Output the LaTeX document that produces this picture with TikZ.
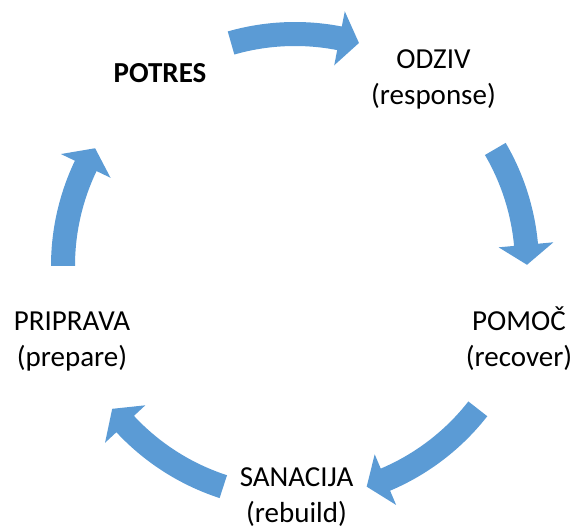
\documentclass[tikz,border=0pt]{standalone}
\usepackage{fontspec}
\setmainfont{Carlito}
\usetikzlibrary{calc}
\definecolor{ciklus}{HTML}{5B9BD5}
\tikzset{
  faza/.style={align=center, anchor=base, inner sep=0pt,
    font=\fontsize{29}{36}\selectfont}
}
\newcommand{\faza}[4]{
  \node[faza] (#1) at (#2,#3) {#4};
}
\newcommand{\puscica}[2]{
  \fill[ciklus] ($(sredina)+(#1:244)$)
  arc[start angle=#1, end angle=#2+4.94, radius=244]
  -- ($(sredina)+(#2+4.94:259.5)$) -- ($(sredina)+(#2:232)$)
  -- ($(sredina)+(#2+4.94:204.5)$) -- ($(sredina)+(#2+4.94:220)$)
  arc[start angle=#2+4.94, end angle=#1, radius=220] -- cycle;
}
\begin{document}
\begin{tikzpicture}[x=1pt, y=1pt]
  \useasboundingbox (0,0) rectangle (573,528);
  \coordinate (sredina) at (295,262);

  % FAZE
  % ====
  \faza{potres}{160}{445.5}{\textbf{POTRES}};
  \faza{odziv}{433.5}{423.5}{ODZIV\\(response)};
  \faza{pomoc}{519}{161.3}{POMOČ\\(recover)};
  \faza{sanacija}{296.5}{6}{SANACIJA\\(rebuild)};
  \faza{priprava}{72}{161.3}{PRIPRAVA\\(prepare)};

  % PUSCICE
  % =======
  \foreach \zac/\kon in {106/74, 30.3/0.3, -38/-72, -108/-142, 180/149.5}
  \puscica{\zac}{\kon};

\end{tikzpicture}
\end{document}
